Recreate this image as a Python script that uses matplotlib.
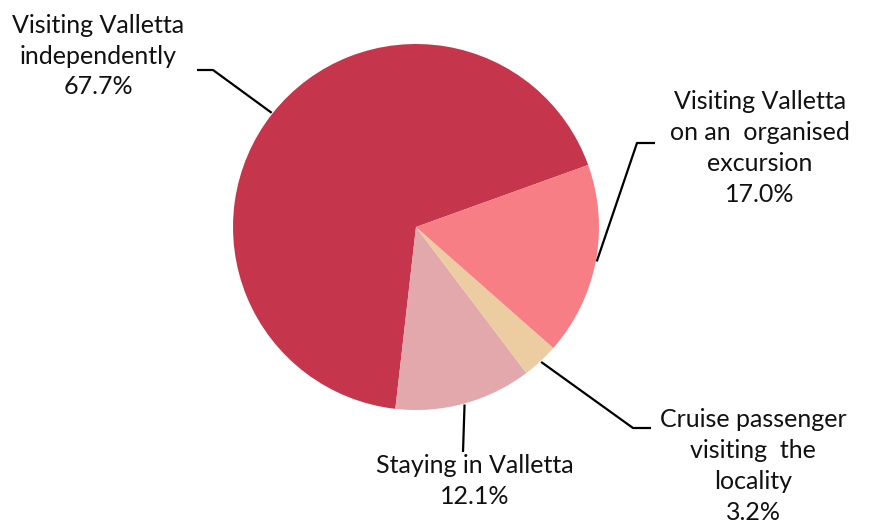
import matplotlib
matplotlib.use('Agg')
import matplotlib.pyplot as plt
import numpy as np

plt.rcParams['font.family'] = ['Lato', 'DejaVu Sans']

# data, in the order drawn counterclockwise
labels = ['Visiting Valletta\nindependently', 'Staying in Valletta',
          'Cruise passenger\nvisiting  the\nlocality',
          'Visiting Valletta\non an  organised\nexcursion']
values = [67.7, 12.1, 3.2, 17.0]
colors = ['#C5364C', '#E3A8AB', '#EBCDA1', '#F77E85']

W, H = 869, 524
fig = plt.figure(figsize=(W / 100, H / 100), dpi=100)
ax = fig.add_axes([0, 0, 1, 1])

cx, cy, r = 416, H - 227, 183
wedges, _ = ax.pie(values, colors=colors, startangle=19.8, counterclock=True,
                   center=(cx, cy), radius=r, frame=True,
                   wedgeprops=dict(linewidth=0))
ax.set_xlim(0, W)
ax.set_ylim(0, H)
ax.set_aspect('equal')
ax.axis('off')

# leader line elbows and text positions (pixels from top-left)
elbows = [[(213, 70), (197, 70)],
          [(463, 452)],
          [(633, 428), (651, 428)],
          [(637, 143), (655, 143)]]
text_pos = [(98, 56), (475, 481), (753, 466), (760, 148)]

for w, v, lab, el, tp in zip(wedges, values, labels, elbows, text_pos):
    mid = np.deg2rad((w.theta1 + w.theta2) / 2)
    ax_ = cx + (r + 1) * np.cos(mid)
    ay_ = cy + (r + 1) * np.sin(mid)
    xs = [ax_] + [p[0] for p in el]
    ys = [ay_] + [H - p[1] for p in el]
    ax.plot(xs, ys, color='black', lw=1.6, solid_capstyle='butt')
    ax.text(tp[0], H - tp[1], f'{lab}\n{v:.1f}%', ha='center', va='center',
            fontsize=18, linespacing=1.42, color='#111111')

fig.savefig('out.png', dpi=100)
